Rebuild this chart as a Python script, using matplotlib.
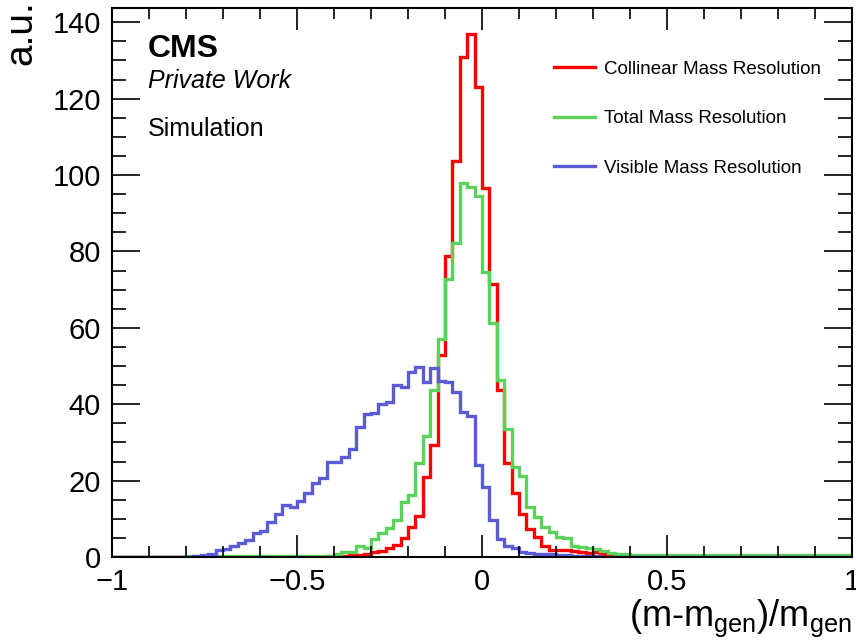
import numpy as np
import matplotlib
matplotlib.use("Agg")
import matplotlib.pyplot as plt
from matplotlib.ticker import MultipleLocator

plt.rcParams['font.family'] = ['Liberation Sans', 'DejaVu Sans']
plt.rcParams['mathtext.fontset'] = 'custom'
plt.rcParams['mathtext.rm'] = 'Liberation Sans'
plt.rcParams['mathtext.it'] = 'Liberation Sans:italic'

# 100 bins from -1 to 1
edges = np.linspace(-1, 1, 101)

collinear = [0.0, 0.0, 0.0, 0.0, 0.0, 0.0, 0.0, 0.0, 0.0, 0.0,
             0.0, 0.0, 0.0, 0.0, 0.0, 0.0, 0.0, 0.0, 0.0, 0.0,
             0.1, 0.1, 0.1, 0.1, 0.1, 0.1, 0.1, 0.1, 0.1, 0.2,
             0.2, 0.3, 0.5, 0.6, 0.8, 1.4, 1.7, 2.3, 3.1, 4.9,
             7.9, 10.7, 21.0, 29.3, 52.9, 78.8, 103.7, 130.8, 136.9, 123.1,
             96.5, 71.6, 43.7, 24.5, 16.7, 11.2, 7.4, 5.2, 3.0, 1.8,
             1.8, 1.9, 1.6, 1.3, 1.0, 1.2, 0.9, 0.5, 0.4, 0.3,
             0.2, 0.2, 0.2, 0.2, 0.2, 0.2, 0.2, 0.2, 0.2, 0.2,
             0.1, 0.1, 0.1, 0.1, 0.1, 0.1, 0.1, 0.1, 0.1, 0.1,
             0.1, 0.1, 0.1, 0.1, 0.1, 0.1, 0.1, 0.1, 0.1, 0.1]

total = [0.05, 0.05, 0.05, 0.05, 0.05, 0.05, 0.05, 0.05, 0.05, 0.05,
         0.2, 0.2, 0.2, 0.2, 0.2, 0.2, 0.2, 0.2, 0.2, 0.2,
         0.2, 0.2, 0.2, 0.2, 0.2, 0.3, 0.3, 0.3, 0.3, 0.3,
         0.8, 1.3, 1.2, 3.0, 2.3, 4.6, 6.2, 7.5, 9.7, 14.3,
         16.3, 24.5, 31.7, 43.7, 57.2, 72.8, 82.3, 98.0, 96.9, 94.6,
         74.7, 61.2, 46.3, 33.5, 23.6, 21.1, 13.0, 10.5, 7.8, 6.6,
         5.3, 5.1, 2.9, 2.5, 2.3, 2.1, 1.6, 1.0, 0.8, 0.7,
         0.6, 0.5, 0.5, 0.5, 0.5, 0.5, 0.5, 0.5, 0.5, 0.5,
         0.5, 0.4, 0.4, 0.4, 0.4, 0.4, 0.4, 0.4, 0.4, 0.4,
         0.4, 0.4, 0.4, 0.4, 0.4, 0.4, 0.4, 0.4, 0.4, 0.4]

visible = [0.0, 0.0, 0.0, 0.0, 0.0, 0.0, 0.0, 0.0, 0.0, 0.05,
           0.1, 0.3, 0.6, 0.8, 1.9, 2.0, 2.8, 3.7, 4.5, 6.4,
           6.9, 9.2, 11.2, 13.5, 13.0, 14.7, 16.7, 19.5, 20.6, 24.9,
           24.9, 26.3, 28.2, 34.1, 37.4, 37.8, 40.1, 40.7, 45.0, 44.4,
           48.5, 49.8, 45.9, 49.4, 46.2, 45.7, 43.1, 37.9, 37.0, 24.0,
           18.2, 9.6, 4.7, 3.0, 2.4, 1.4, 1.0, 0.9, 0.8, 0.7,
           0.5, 0.4, 0.3, 0.3, 0.2, 0.15, 0.1, 0.1, 0.1, 0.1,
           0.1, 0.1, 0.1, 0.1, 0.1, 0.1, 0.1, 0.1, 0.1, 0.1,
           0.05, 0.05, 0.05, 0.05, 0.05, 0.05, 0.05, 0.05, 0.05, 0.05,
           0.05, 0.05, 0.05, 0.05, 0.05, 0.05, 0.05, 0.05, 0.05, 0.05]

labels = ['Collinear Mass Resolution', 'Total Mass Resolution', 'Visible Mass Resolution']
colors = ['#ff0000', '#5bd35b', '#5b5bd8']

fig = plt.figure(figsize=(8.56, 6.41), dpi=100)
ax = fig.add_axes([112/856, 1 - 557/641, (852 - 112)/856, (557 - 8)/641])

for vals, lab, col in zip([collinear, total, visible], labels, colors):
    ax.stairs(vals, edges, baseline=None, color=col, lw=2.4, label=lab)

ax.set_xlim(-1, 1)
ax.set_ylim(0, 1.05 * max(collinear))

ax.xaxis.set_major_locator(MultipleLocator(0.5))
ax.xaxis.set_minor_locator(MultipleLocator(0.1))
ax.yaxis.set_major_locator(MultipleLocator(20))
ax.yaxis.set_minor_locator(MultipleLocator(5))
ax.set_xticks([-1, -0.5, 0, 0.5, 1])
ax.set_xticklabels(['\u22121', '\u22120.5', '0', '0.5', '1'])
ax.tick_params(which='both', direction='in', top=True, right=True, width=1.2, labelsize=21)
ax.tick_params(axis='x', which='major', length=16, pad=8)
ax.tick_params(axis='x', which='minor', length=8)
ax.tick_params(axis='y', which='major', length=20, pad=8)
ax.tick_params(axis='y', which='minor', length=10)
for s in ax.spines.values():
    s.set_linewidth(1.5)

fig.text(852/856, 0.003, '(m-m$_{\\mathrm{gen}}$)/m$_{\\mathrm{gen}}$', ha='right', va='bottom', fontsize=26)
fig.text(21/856, 1.0, 'a.u.', rotation=90, ha='center', va='top', fontsize=28)

ax.text(148/856, 1 - 57/641, 'CMS', transform=fig.transFigure, fontsize=23, fontweight='bold')
ax.text(148/856, 1 - 88/641, 'Private Work', transform=fig.transFigure, fontsize=18, style='italic')
ax.text(148/856, 1 - 136/641, 'Simulation', transform=fig.transFigure, fontsize=18)

leg = ax.legend(loc='upper right', bbox_to_anchor=(838/856, 1 - 44/641), bbox_transform=fig.transFigure,
                frameon=False, fontsize=13.5, handlelength=2.2, labelspacing=1.72, handletextpad=0.5)

fig.savefig('out.png', dpi=100)
